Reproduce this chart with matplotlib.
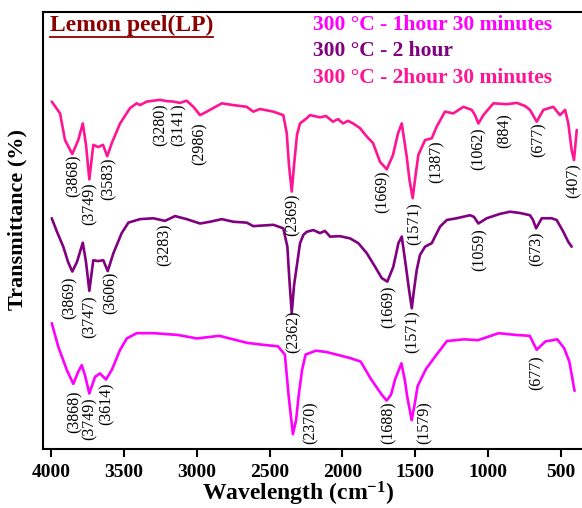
import matplotlib
matplotlib.use('Agg')
import matplotlib.pyplot as plt
from matplotlib.lines import Line2D

# FTIR spectra of lemon peel carbonised at 300 C, read off the reference
# curve for 2 h 30 min (top)
wn_2h30 = [3995, 3938, 3904, 3854, 3813, 3782, 3760, 3737, 3710, 3677, 3643, 3614, 3583, 3526,
           3458, 3412, 3389, 3343, 3252, 3206, 3161, 3115, 3069, 3023, 2977, 2931, 2828, 2749,
           2657, 2612, 2566, 2474, 2406, 2382, 2367, 2348, 2332, 2312, 2291, 2245, 2222, 2154,
           2113, 2065, 2030, 1996, 1962, 1927, 1879, 1833, 1790, 1742, 1696, 1653, 1619, 1593,
           1559, 1540, 1518, 1498, 1479, 1433, 1387, 1353, 1296, 1239, 1170, 1113, 1090, 1067,
           1033, 964, 872, 804, 747, 713, 667, 621, 553, 507, 472, 450, 427, 411, 392]
t_2h30 = [79.5, 76.8, 70.7, 67.5, 70.7, 74.5, 69.6, 61.7, 69.6, 69.1, 69.6, 67.0, 70.0, 74.5,
          78.0, 79.1, 78.7, 79.5, 79.9, 79.6, 79.5, 79.2, 79.7, 78.3, 76.4, 77.2, 79.1, 78.7,
          78.3, 77.2, 77.8, 77.2, 76.4, 72.2, 65.0, 58.9, 65.0, 71.9, 74.5, 75.7, 76.4, 75.9,
          76.2, 74.9, 75.5, 74.5, 75.1, 74.5, 73.4, 71.5, 70.0, 65.7, 64.0, 67.3, 72.2, 74.5,
          66.9, 61.6, 57.4, 62.7, 67.3, 70.7, 71.1, 73.8, 77.2, 76.8, 78.3, 77.6, 76.4, 74.5,
          76.4, 79.1, 78.9, 79.2, 78.5, 77.6, 74.9, 77.6, 78.3, 76.4, 77.6, 74.5, 68.4, 66.1, 73.0]

# curve for 2 h (middle)
wn_2h = [3995, 3959, 3916, 3883, 3854, 3822, 3782, 3760, 3737, 3710, 3677, 3641, 3611, 3572,
         3515, 3469, 3389, 3298, 3218, 3149, 3069, 2977, 2909, 2828, 2749, 2657, 2612, 2474,
         2406, 2378, 2364, 2348, 2332, 2314, 2291, 2268, 2245, 2200, 2154, 2120, 2085, 2017,
         1948, 1891, 1833, 1776, 1730, 1692, 1651, 1616, 1593, 1564, 1543, 1524, 1509, 1490,
         1468, 1433, 1387, 1330, 1284, 1216, 1124, 1097, 1067, 1010, 919, 850, 781, 713, 692,
         671, 632, 564, 530, 484, 450, 427]
t_2h = [52.8, 49.7, 46.3, 42.8, 40.6, 42.8, 47.2, 42.8, 36.2, 43.2, 43.0, 43.2, 40.7, 44.8,
        49.4, 51.8, 52.6, 52.8, 52.2, 53.3, 52.6, 51.6, 52.0, 52.6, 52.0, 51.8, 51.0, 51.3,
        50.5, 46.3, 38.7, 31.1, 37.5, 41.7, 47.1, 49.0, 49.7, 50.1, 49.4, 49.9, 48.6, 48.7,
        48.2, 47.1, 44.8, 41.7, 39.1, 38.3, 41.7, 47.1, 48.6, 41.7, 36.4, 32.2, 36.4, 41.0,
        44.4, 46.3, 47.1, 50.9, 52.4, 52.8, 53.5, 53.1, 51.6, 52.8, 53.8, 54.3, 54.0, 53.5, 52.4,
        50.5, 52.8, 52.8, 52.4, 49.7, 47.4, 46.3]

# curve for 1 h 30 min (bottom)
wn_1h30 = [3995, 3950, 3892, 3847, 3813, 3789, 3767, 3737, 3698, 3664, 3623, 3583, 3526, 3480,
           3412, 3294, 3129, 2999, 2845, 2656, 2561, 2443, 2395, 2370, 2340, 2318, 2301, 2277,
           2253, 2182, 2111, 2040, 1946, 1875, 1804, 1732, 1697, 1667, 1638, 1595, 1571, 1556,
           1525, 1505, 1484, 1425, 1354, 1283, 1165, 1070, 999, 928, 809, 715, 667, 608, 526,
           479, 443, 407]
t_1h30 = [28.8, 23.4, 18.1, 14.9, 17.7, 19.2, 16.9, 12.7, 16.5, 17.3, 15.9, 18.1, 22.7, 25.3,
          26.5, 26.5, 26.1, 25.3, 25.9, 24.3, 23.9, 23.5, 21.6, 12.4, 3.4, 6.6, 12.1, 18.1,
          21.6, 22.5, 22.2, 21.6, 20.8, 20.0, 16.0, 12.5, 11.1, 12.4, 16.0, 19.6, 15.6, 12.1,
          6.6, 10.1, 14.4, 18.4, 21.6, 24.7, 25.1, 24.9, 25.7, 26.5, 26.1, 25.9, 22.7, 24.6, 25.1,
          23.1, 20.0, 13.3]

# peak labels: text, x position, top of label
pk_2h30 = ['(3868)', '(3749)', '(3583)', '(3280)', '(3141)', '(2986)', '(2369)', '(1669)',
           '(1571)', '(1387)', '(1062)', '(884)', '(677)', '(407)']
pk_2h30_x = [3847, 3732, 3607, 3247, 3126, 2977, 2339, 1721, 1502, 1353, 1067, 884, 656, 415]
pk_2h30_y = [67.3, 61.1, 66.6, 79.2, 79.2, 74.8, 58.4, 63.8, 56.5, 70.7, 73.7, 76.9, 74.8, 65.4]

pk_2h = ['(3869)', '(3747)', '(3606)', '(3283)', '(2362)', '(1669)', '(1571)', '(1059)', '(673)']
pk_2h_x = [3870, 3732, 3590, 3218, 2337, 1685, 1520, 1056, 667]
pk_2h_y = [39.4, 35.2, 40.5, 51.7, 31.8, 37.5, 31.8, 50.6, 49.7]

pk_1h30 = ['(3868)', '(3749)', '(3614)', '(2370)', '(1688)', '(1579)', '(677)']
pk_1h30_x = [3835, 3737, 3618, 2218, 1680, 1437, 667]
pk_1h30_y = [13.5, 11.7, 15.3, 11.0, 11.0, 11.0, 21.5]

legend_labels = ['300 \u00b0C - 1hour 30 minutes', '300 \u00b0C - 2 hour',
                 '300 \u00b0C - 2hour 30 minutes']
xticks = [4000, 3500, 3000, 2500, 2000, 1500, 1000, 500]

c_1h30 = '#ff00ff'
c_2h = '#800080'
c_2h30 = '#ff1493'

plt.rcParams['font.family'] = ['Liberation Serif', 'DejaVu Serif']
plt.rcParams['mathtext.fontset'] = 'custom'
plt.rcParams['mathtext.rm'] = 'Liberation Serif:bold'
plt.rcParams['mathtext.bf'] = 'Liberation Serif:bold'
plt.rcParams['mathtext.default'] = 'bf'

fig = plt.figure(figsize=(5.82, 5.08), dpi=100)
ax = fig.add_axes([43 / 582, 59 / 508, 539 / 582, 437 / 508])

for xs, ys, col in [(wn_2h30, t_2h30, c_2h30), (wn_2h, t_2h, c_2h), (wn_1h30, t_1h30, c_1h30)]:
    ax.plot(xs, ys, color=col, lw=1.9, solid_joinstyle='round', solid_capstyle='round')

for labels, xs, ys in [(pk_2h30, pk_2h30_x, pk_2h30_y), (pk_2h, pk_2h_x, pk_2h_y),
                       (pk_1h30, pk_1h30_x, pk_1h30_y)]:
    for s, x, y in zip(labels, xs, ys):
        ax.text(x, y, s, rotation=90, ha='center', va='top', fontsize=11.5, color='black')

ax.set_xlim(4055, 356)
ax.set_ylim(0, 100)
ax.set_xticks(xticks)
ax.set_xticklabels([str(t) for t in xticks], fontsize=14, fontweight='bold')
ax.set_yticks([])
ax.tick_params(axis='x', direction='out', length=6, width=1.5, pad=5)
for side in ['left', 'top', 'bottom']:
    ax.spines[side].set_linewidth(1.5)
ax.spines['right'].set_visible(False)

title = ax.text(0.013, 0.970, 'Lemon peel(LP)', transform=ax.transAxes, ha='left',
                va='center', fontsize=17, fontweight='bold', color='#8b0000')
for lab, col, yy in zip(legend_labels, [c_1h30, c_2h, c_2h30], [0.970, 0.911, 0.849]):
    ax.text(0.501, yy, lab, transform=ax.transAxes, ha='left', va='center',
            fontsize=15.5, fontweight='bold', color=col)

fig.text(298 / 582, 1 - 494 / 508, r'Wavelength (cm$^{-1}$)', ha='center', va='center',
         fontsize=17, fontweight='bold')
fig.text(17 / 582, 1 - 220 / 508, 'Transmittance (%)', rotation=90, ha='center',
         va='center', fontsize=16, fontweight='bold')

# underline the sample name
fig.canvas.draw()
bb = title.get_window_extent()
W, H = fig.canvas.get_width_height()
fig.add_artist(Line2D([bb.x0 / W, bb.x1 / W], [(bb.y0 - 1) / H, (bb.y0 - 1) / H],
                      transform=fig.transFigure, color='#8b0000', lw=1.3))

fig.savefig('out.png', dpi=100)
